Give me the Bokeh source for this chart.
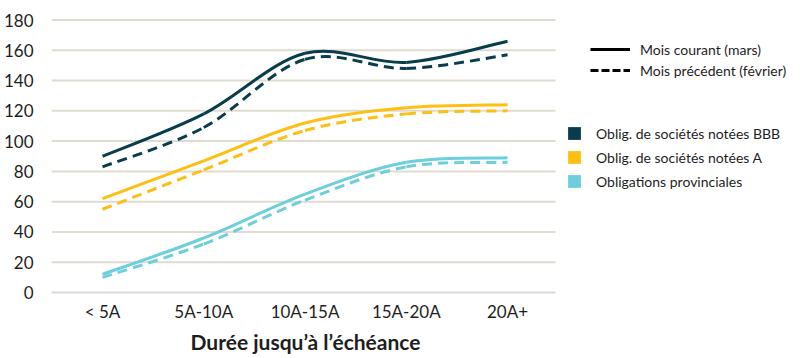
from bokeh.plotting import figure
from bokeh.models import Range1d, FixedTicker, Legend, LegendItem, Title
from bokeh.embed import file_html
from bokeh.resources import INLINE

categories = ["< 5A", "5A-10A", "10A-15A", "15A-20A", "20A+"]
y_ticks = [0, 20, 40, 60, 80, 100, 120, 140, 160, 180]

bbb_current = [90, 118, 158, 152, 166]
bbb_previous = [83, 109, 154, 148, 157]
a_current = [62, 87, 112, 122, 124]
a_previous = [55, 81, 107, 118, 120]
prov_current = [12, 36, 65, 86, 89]
prov_previous = [10, 32, 61, 83, 86]

series_names = ["Oblig. de sociétés notées BBB", "Oblig. de sociétés notées A", "Obligations provinciales"]
colors = ["#083d4b", "#fdbf12", "#6dcfdb"]
FONT = "Lato"
TEXT = "#1e1e1e"
NAN = float("nan")

X0, X1 = -0.504, 4.474          # visible extent of the plotting area (category units)
XEND = X0 + 746 / 101.25         # frame extends under the legend area

p = figure(frame_width=746, frame_height=274, output_backend="svg", toolbar_location=None,
           x_range=Range1d(X0, XEND), y_range=Range1d(0, 181),
           min_border_left=43, min_border_right=0, min_border_top=18, min_border_bottom=20)
p.outline_line_color = None
p.background_fill_color = "white"
p.border_fill_color = "white"
p.xgrid.grid_line_color = None
p.ygrid.grid_line_color = None

# horizontal grid lines, limited to the plotting area
p.segment(x0=[X0] * len(y_ticks[1:]), x1=[X1] * len(y_ticks[1:]), y0=y_ticks[1:], y1=y_ticks[1:],
          line_color="#dfdbd1", line_width=2)

p.yaxis.ticker = FixedTicker(ticks=y_ticks)
p.yaxis.axis_line_color = None
p.yaxis.major_tick_line_color = None
p.yaxis.minor_tick_line_color = None
p.yaxis.major_label_standoff = 12
p.yaxis.major_label_text_font = FONT
p.yaxis.major_label_text_font_size = "17px"
p.yaxis.major_label_text_color = TEXT

p.xaxis.ticker = FixedTicker(ticks=list(range(len(categories))))
p.xaxis.bounds = (X0, X1)
p.xaxis.major_label_overrides = {i: c for i, c in enumerate(categories)}
p.xaxis.axis_line_color = "#d9d9d9"
p.xaxis.axis_line_width = 2
p.xaxis.major_tick_line_color = None
p.xaxis.minor_tick_line_color = None
p.xaxis.major_label_standoff = 2
p.xaxis.major_label_text_font = FONT
p.xaxis.major_label_text_font_size = "17px"
p.xaxis.major_label_text_color = TEXT

p.add_layout(Title(text="Durée jusqu’à l’échéance", align="left", offset=139, standoff=4,
                   text_font=FONT, text_font_size="21px", text_font_style="bold",
                   text_color=TEXT), "below")


def smooth_segments(vals):
    n = len(vals)
    xs = list(range(n))
    ext = [vals[0]] + list(vals) + [vals[-1]]
    x0, y0, x1, y1, cx0, cy0, cx1, cy1 = [], [], [], [], [], [], [], []
    for i in range(n - 1):
        pm, p0, p1, p2 = ext[i], ext[i + 1], ext[i + 2], ext[i + 3]
        xm = max(i - 1, 0); x2 = min(i + 2, n - 1)
        x0.append(xs[i]); y0.append(p0)
        x1.append(xs[i + 1]); y1.append(p1)
        cx0.append(xs[i] + (xs[i + 1] - xm) / 6.0); cy0.append(p0 + (p1 - pm) / 6.0)
        cx1.append(xs[i + 1] - (x2 - xs[i]) / 6.0); cy1.append(p1 - (p2 - p0) / 6.0)
    return dict(x0=x0, y0=y0, x1=x1, y1=y1, cx0=cx0, cy0=cy0, cx1=cx1, cy1=cy1)


pairs = [(bbb_current, bbb_previous), (a_current, a_previous), (prov_current, prov_previous)]
for (cur, prev), col in zip(pairs, colors):
    p.bezier(line_color=col, line_width=3, line_dash="10 6", **smooth_segments(prev))
    p.bezier(line_color=col, line_width=3, **smooth_segments(cur))

# legend-only renderers (NaN data: nothing drawn in the plot)
r_solid = p.line(x=[NAN], y=[NAN], line_color="black", line_width=3)
r_dash = p.line(x=[NAN], y=[NAN], line_color="black", line_width=3, line_dash="8 3")
sq = [p.quad(left=[NAN], right=[NAN], top=[NAN], bottom=[NAN], fill_color=c, line_color=None)
      for c in colors]

leg1 = Legend(items=[LegendItem(label="Mois courant (mars)", renderers=[r_solid]),
                     LegendItem(label="Mois précédent (février)", renderers=[r_dash])],
              location=(539, 212), glyph_width=40, glyph_height=20, label_height=20,
              spacing=1, label_standoff=10, padding=0, margin=0,
              border_line_color=None, background_fill_alpha=0,
              label_text_font=FONT, label_text_font_size="14px", label_text_color=TEXT)
leg2 = Legend(items=[LegendItem(label=n, renderers=[r]) for n, r in zip(series_names, sq)],
              location=(515, 102.5), glyph_width=16, glyph_height=16, label_height=16,
              spacing=7, label_standoff=14, padding=0, margin=0,
              border_line_color=None, background_fill_alpha=0,
              label_text_font=FONT, label_text_font_size="14px", label_text_color=TEXT)
p.add_layout(leg1, "center")
p.add_layout(leg2, "center")

open("out.html", "w").write(file_html(p, INLINE))
